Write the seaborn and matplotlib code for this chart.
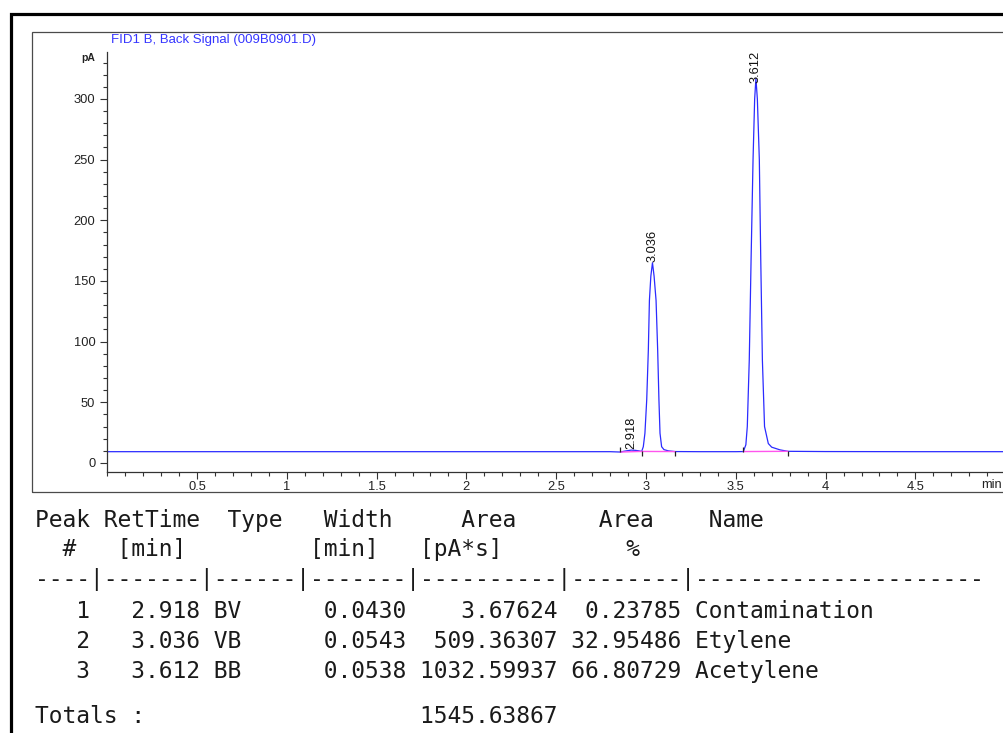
import numpy as np
import pandas as pd
import matplotlib
matplotlib.use("Agg")
import matplotlib.pyplot as plt
import seaborn as sns
from matplotlib.patches import Rectangle
from matplotlib.ticker import MultipleLocator, FixedLocator, FuncFormatter

trace_time = [0.00, 1.00, 2.00, 2.80, 2.857, 2.875, 2.90, 2.918, 2.94, 2.96, 2.976,
              2.985, 2.994, 3.004, 3.013, 3.019, 3.027, 3.036, 3.045, 3.056, 3.065,
              3.072, 3.078, 3.087, 3.100, 3.124, 3.161, 3.30, 3.50,
              3.542, 3.556, 3.564, 3.575, 3.585, 3.596, 3.605, 3.612, 3.620, 3.631,
              3.639, 3.648, 3.660, 3.681, 3.700, 3.746, 3.790, 4.00, 4.50, 5.00]
trace_signal = [9.3, 9.3, 9.3, 9.3, 9.0, 9.6, 10.2, 10.6, 10.4, 10.0, 9.5,
                13.4, 24.5, 52.0, 93.0, 134.0, 154.0, 165.0, 154.0, 134.0, 93.0,
                52.0, 24.5, 13.4, 11.0, 10.0, 9.4, 9.3, 9.3,
                9.4, 15.0, 30.0, 85.0, 167.0, 250.0, 300.0, 317.0, 300.0, 250.0,
                167.0, 85.0, 30.0, 16.0, 13.0, 10.8, 9.6, 9.4, 9.3, 9.3]

# linea base (inicio, fin) de cada pico
base_t0 = [2.857, 2.976, 3.542]
base_t1 = [2.976, 3.161, 3.790]
base_y0 = [9.0, 9.5, 9.4]
base_y1 = [9.5, 9.4, 9.6]
event_up = [2.857, 3.542]
event_down = [2.976, 3.161, 3.790]

# tabla de picos
peak_no = [1, 2, 3]
ret_time = [2.918, 3.036, 3.612]
peak_apex = [10.6, 165.0, 313.0]
peak_type = ["BV", "VB", "BB"]
peak_width = [0.0430, 0.0543, 0.0538]
peak_area = [3.67624, 509.36307, 1032.59937]
area_pct = [0.23785, 32.95486, 66.80729]
peak_name = ["Contamination", "Etylene", "Acetylene"]
total_area = 1545.63867

df = pd.DataFrame({"t": trace_time, "pA": trace_signal})

sns.set_style("ticks")
plt.rcParams["font.family"] = ["Liberation Sans", "DejaVu Sans"]

W, H = 1004, 733
fig = plt.figure(figsize=(W / 100, H / 100), dpi=100)

# marcos
fig.add_artist(Rectangle((11 / W, -0.1), 1.2, 1 - 14 / H + 0.1, transform=fig.transFigure,
                         fill=False, edgecolor="black", lw=2.3))
fig.add_artist(Rectangle((32 / W, 1 - 491.5 / H), 1.1, (491.5 - 31.7) / H, transform=fig.transFigure,
                         fill=False, edgecolor="#4a4a4a", lw=0.9))

x0, xaxis_y, ytop = 107.2, 471.7, 52.0
ax = fig.add_axes([x0 / W, 1 - xaxis_y / H, 1 - x0 / W, (xaxis_y - ytop) / H])
ax.set_facecolor("none")

sns.lineplot(data=df, x="t", y="pA", ax=ax, color="#2b2bff", lw=0.9,
             estimator=None, sort=False)

for a, b, ya, yb in zip(base_t0, base_t1, base_y0, base_y1):
    ax.plot([a, b], [ya, yb], color="#ff55ee", lw=1.0)
ax.vlines(event_up, 9.3, 13.0, color="#222222", lw=0.9)
ax.vlines(event_down, 5.5, 9.5, color="#222222", lw=0.9)

for rt, hh in zip(ret_time, peak_apex):
    ax.text(rt, hh + 0.5, f"{rt:.3f}", rotation=90, ha="center", va="bottom",
            fontsize=9.3, color="#111111")

ax.set_xlim(0, (W - x0) / 179.6)
ax.set_ylim(-7.2, 338.7)
ax.set_xlabel("")
ax.set_ylabel("")
ax.spines["top"].set_visible(False)
ax.spines["right"].set_visible(False)
for s in ["left", "bottom"]:
    ax.spines[s].set_color("#333333")
    ax.spines[s].set_linewidth(0.9)

ax.xaxis.set_major_locator(FixedLocator([0.5, 1, 1.5, 2, 2.5, 3, 3.5, 4, 4.5]))
ax.xaxis.set_minor_locator(MultipleLocator(0.1))
ax.xaxis.set_major_formatter(FuncFormatter(lambda v, p: f"{v:g}"))
ax.yaxis.set_major_locator(MultipleLocator(50))
ax.yaxis.set_minor_locator(MultipleLocator(10))
ax.tick_params(axis="both", which="major", length=5, width=0.8, color="#333333",
               labelsize=9.3, labelcolor="#222222")
ax.tick_params(axis="both", which="minor", length=3, width=0.8, color="#333333")
ax.tick_params(axis="x", which="major", pad=2)
ax.tick_params(axis="y", which="major", pad=3.5)

ax.annotate("min", xy=(1, 0), xycoords="axes fraction", xytext=(-1.5, -5.5),
            textcoords="offset points", ha="right", va="top",
            fontsize=9.3, color="#222222")

fig.text(111 / W, 1 - 39.5 / H, "FID1 B, Back Signal (009B0901.D)", color="#3535ff",
         fontsize=9.5, ha="left", va="center")
fig.text(95 / W, 1 - 58 / H, "pA", ha="right", va="center", fontsize=7.5,
         fontweight="bold", color="#222222")

## tabla de resultados en texto monoespaciado

hdr1 = "Peak RetTime  Type   Width     Area      Area    Name"
hdr2 = "  #   [min]" + " " * 9 + "[min]   [pA*s]" + " " * 9 + "%"
dash = "----|-------|------|-------|----------|--------|" + "-" * 21
rows = []
for n, rt, ty, w, ar, pc, nm in zip(peak_no, ret_time, peak_type, peak_width,
                                   peak_area, area_pct, peak_name):
    rows.append(f"{n:>4}{rt:>8.3f} {ty:<2}{' ' * 6}{w:.4f}{ar:>11.5f}{pc:>9.5f} {nm}")
tot = "Totals :" + " " * 20 + f"{total_area:.5f}"

lines = [hdr1, hdr2, dash] + rows
ys = [527, 556, 586, 618, 648, 678]
for txt, yy in zip(lines, ys):
    fig.text(35 / W, 1 - yy / H, txt, family="DejaVu Sans Mono", fontsize=16.5,
             ha="left", va="baseline", color="#1a1a1a")
fig.text(35 / W, 1 - 723 / H, tot, family="DejaVu Sans Mono", fontsize=16.5,
         ha="left", va="baseline", color="#1a1a1a")

fig.savefig("out.png", dpi=100)
